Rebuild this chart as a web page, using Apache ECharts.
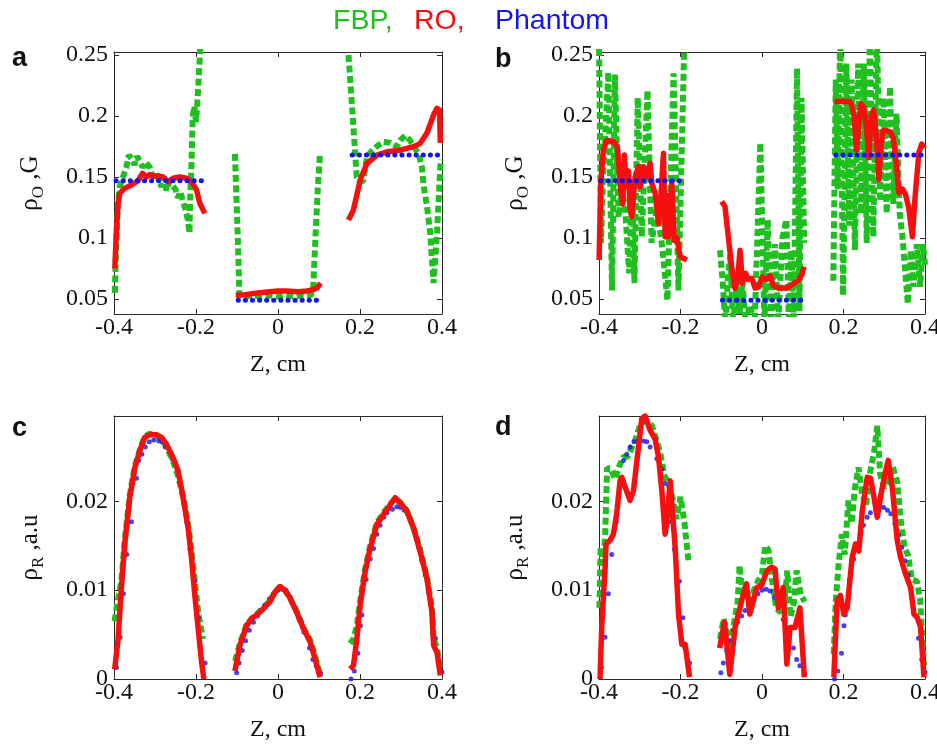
<!DOCTYPE html>
<html><head><meta charset="utf-8">
<script src="https://cdn.jsdelivr.net/npm/echarts@6/dist/echarts.min.js"></script>
<style>html,body{margin:0;padding:0;background:#fff}#chart{width:937px;height:744px}</style>
</head><body><div id="chart"></div>
<script>
// ---------------- data ----------------
const xTicks = [-0.4, -0.2, 0, 0.2, 0.4];
const xTickLabels = ['-0.4', '-0.2', '0', '0.2', '0.4'];
const yTicksAB = [0.05, 0.1, 0.15, 0.2, 0.25];
const yTickLabelsAB = ['0.05', '0.1', '0.15', '0.2', '0.25'];
const yTicksCD = [0, 0.01, 0.02];
const yTickLabelsCD = ['0', '0.01', '0.02'];
const legendNames = ['FBP,', 'RO,', 'Phantom'];
const panelLetters = ['a', 'b', 'c', 'd'];

// panel a : FBP / RO / phantom, three segments each, [Z, value]
const fbpA = [
  [[-0.398,0.055],[-0.394,0.100],[-0.390,0.130],[-0.386,0.142],[-0.378,0.150],[-0.370,0.158],[-0.364,0.168],[-0.357,0.165],[-0.350,0.160],[-0.344,0.167],[-0.337,0.163],[-0.330,0.158],[-0.322,0.162],[-0.313,0.158],[-0.305,0.150],[-0.297,0.153],[-0.290,0.147],[-0.284,0.142],[-0.278,0.150],[-0.272,0.139],[-0.265,0.146],[-0.258,0.143],[-0.250,0.140],[-0.244,0.133],[-0.238,0.138],[-0.232,0.130],[-0.226,0.124],[-0.220,0.115],[-0.216,0.104],[-0.214,0.135],[-0.211,0.160],[-0.208,0.200],[-0.204,0.208],[-0.200,0.195],[-0.196,0.215],[-0.192,0.240],[-0.188,0.265]],
  [[-0.105,0.169],[-0.099,0.110],[-0.094,0.053],[-0.080,0.052],[-0.060,0.053],[-0.040,0.052],[-0.020,0.053],[0.000,0.052],[0.020,0.053],[0.040,0.052],[0.060,0.053],[0.080,0.053],[0.086,0.060],[0.092,0.105],[0.097,0.140],[0.1025,0.169]],
  [[0.172,0.250],[0.184,0.191],[0.192,0.150],[0.200,0.146],[0.208,0.147],[0.217,0.166],[0.225,0.170],[0.241,0.175],[0.257,0.179],[0.274,0.178],[0.290,0.175],[0.298,0.180],[0.310,0.184],[0.322,0.180],[0.331,0.175],[0.343,0.169],[0.351,0.158],[0.355,0.143],[0.363,0.127],[0.371,0.105],[0.3795,0.063],[0.388,0.105],[0.396,0.159],[0.399,0.164]]
];
const roA = [
  [[-0.398,0.075],[-0.394,0.107],[-0.390,0.128],[-0.386,0.1366],[-0.374,0.1407],[-0.3575,0.1434],[-0.3413,0.147],[-0.3306,0.153],[-0.3209,0.150],[-0.3128,0.152],[-0.3047,0.1506],[-0.2925,0.151],[-0.2803,0.150],[-0.268,0.1462],[-0.2558,0.149],[-0.2395,0.150],[-0.2232,0.149],[-0.2109,0.1462],[-0.1987,0.1394],[-0.1906,0.1284],[-0.1784,0.1202]],
  [[-0.103,0.053],[-0.08,0.0535],[-0.05,0.055],[-0.02,0.056],[0.0,0.0565],[0.02,0.0565],[0.05,0.056],[0.07,0.0565],[0.085,0.0575],[0.095,0.059],[0.104,0.063]],
  [[0.1718,0.1148],[0.184,0.123],[0.2004,0.1475],[0.2166,0.161],[0.241,0.168],[0.2655,0.1707],[0.2981,0.172],[0.3306,0.1749],[0.347,0.1776],[0.3633,0.186],[0.3795,0.201],[0.3877,0.2063],[0.394,0.205],[0.3959,0.178]]
];
// phantom (panels a and b): constant segments
const phantomAB = [
  [[-0.395,0.147],[-0.186,0.147]],
  [[-0.097,0.049],[0.104,0.049]],
  [[0.181,0.168],[0.400,0.168]]
];

// panel b
const fbpB = [
  [[-0.3997,0.255],[-0.395,0.096],[-0.390,0.150],[-0.377,0.236],[-0.368,0.057],[-0.361,0.234],[-0.352,0.117],[-0.344,0.140],[-0.336,0.125],[-0.326,0.071],[-0.319,0.147],[-0.313,0.063],[-0.305,0.215],[-0.295,0.101],[-0.281,0.221],[-0.271,0.096],[-0.258,0.125],[-0.245,0.093],[-0.232,0.049],[-0.217,0.235],[-0.205,0.057],[-0.190,0.270],[-0.182,0.270]],
  [[-0.103,0.090],[-0.096,0.062],[-0.090,0.030],[-0.084,0.065],[-0.078,0.086],[-0.071,0.030],[-0.062,0.060],[-0.055,0.038],[-0.048,0.064],[-0.040,0.030],[-0.030,0.045],[-0.018,0.030],[-0.004,0.178],[0.006,0.030],[0.014,0.115],[0.022,0.030],[0.032,0.095],[0.040,0.030],[0.050,0.100],[0.060,0.115],[0.066,0.030],[0.072,0.090],[0.078,0.030],[0.086,0.239],[0.092,0.040],[0.097,0.215],[0.1035,0.096]],
  [[0.175,0.065],[0.181,0.230],[0.186,0.140],[0.192,0.270],[0.199,0.053],[0.207,0.243],[0.214,0.110],[0.220,0.230],[0.228,0.090],[0.236,0.243],[0.243,0.120],[0.250,0.243],[0.257,0.096],[0.265,0.270],[0.273,0.101],[0.282,0.270],[0.290,0.130],[0.298,0.215],[0.306,0.120],[0.314,0.224],[0.322,0.128],[0.330,0.202],[0.338,0.120],[0.345,0.100],[0.352,0.070],[0.358,0.046],[0.365,0.090],[0.372,0.060],[0.380,0.095],[0.388,0.060],[0.395,0.095],[0.400,0.078]]
];
const roB = [
  [[-0.3997,0.082],[-0.3958,0.145],[-0.3893,0.172],[-0.3811,0.180],[-0.3647,0.179],[-0.3549,0.175],[-0.3467,0.139],[-0.3418,0.128],[-0.3377,0.168],[-0.3336,0.142],[-0.3279,0.155],[-0.3238,0.125],[-0.3197,0.1175],[-0.3114,0.150],[-0.3032,0.1585],[-0.2991,0.142],[-0.2909,0.1585],[-0.2827,0.150],[-0.2745,0.1612],[-0.2704,0.145],[-0.2622,0.1366],[-0.254,0.112],[-0.2499,0.124],[-0.2418,0.1694],[-0.2377,0.101],[-0.2336,0.135],[-0.2295,0.1011],[-0.2214,0.145],[-0.2155,0.098],[-0.209,0.100],[-0.2008,0.0847],[-0.1844,0.082]],
  [[-0.0991,0.130],[-0.091,0.126],[-0.0827,0.101],[-0.0745,0.0765],[-0.0663,0.0587],[-0.060,0.065],[-0.054,0.090],[-0.048,0.063],[-0.040,0.071],[-0.034,0.066],[-0.025,0.067],[-0.017,0.059],[-0.008,0.060],[0.000,0.068],[0.010,0.066],[0.020,0.069],[0.028,0.061],[0.040,0.059],[0.060,0.059],[0.075,0.062],[0.088,0.065],[0.098,0.070],[0.103,0.0765]],
  [[0.178,0.212],[0.200,0.212],[0.214,0.212],[0.220,0.209],[0.226,0.200],[0.232,0.172],[0.238,0.195],[0.243,0.210],[0.250,0.207],[0.257,0.188],[0.262,0.166],[0.268,0.200],[0.274,0.205],[0.280,0.185],[0.287,0.148],[0.292,0.175],[0.297,0.188],[0.305,0.188],[0.315,0.187],[0.322,0.182],[0.330,0.160],[0.336,0.137],[0.345,0.140],[0.352,0.136],[0.360,0.125],[0.369,0.101],[0.376,0.135],[0.385,0.170],[0.392,0.177],[0.399,0.174]]
];

// panel c
const fbpC = [
  [[-0.3985,0.0065],[-0.392,0.0085],[-0.382,0.0110],[-0.374,0.0155],[-0.3616,0.0207],[-0.349,0.0240],[-0.337,0.0258],[-0.325,0.0273],[-0.3128,0.0276],[-0.2964,0.0274],[-0.284,0.0270],[-0.272,0.0261],[-0.2558,0.0245],[-0.2436,0.0228],[-0.2314,0.0205],[-0.2192,0.0175],[-0.2109,0.0145],[-0.2028,0.0110],[-0.1947,0.0075],[-0.188,0.0058],[-0.183,0.0045]],
  [[-0.1045,0.0020],[-0.093,0.0040],[-0.0765,0.0061],[-0.0643,0.0068],[-0.052,0.0073],[-0.0359,0.0080],[-0.0195,0.0088],[-0.0073,0.0098],[0.0049,0.0104],[0.0171,0.0100],[0.0293,0.0091],[0.0457,0.0076],[0.0618,0.0058],[0.0782,0.0044],[0.0904,0.0026],[0.1026,0.0005]],
  [[0.1759,0.0040],[0.184,0.0045],[0.1923,0.0060],[0.2004,0.0088],[0.2126,0.0124],[0.2248,0.0150],[0.2412,0.0176],[0.2573,0.0187],[0.2737,0.0197],[0.2859,0.0203],[0.2981,0.0199],[0.3145,0.0189],[0.3306,0.0170],[0.347,0.0145],[0.3633,0.0115],[0.3756,0.0080],[0.3795,0.0045],[0.3878,0.0035],[0.3959,0.0008]]
];
const roC = [
  [[-0.3983,0.0011],[-0.390,0.0045],[-0.382,0.0102],[-0.374,0.0151],[-0.3616,0.0204],[-0.349,0.0238],[-0.337,0.0257],[-0.325,0.0272],[-0.3128,0.0275],[-0.2964,0.0275],[-0.284,0.0272],[-0.272,0.0264],[-0.2558,0.0249],[-0.2436,0.0234],[-0.2314,0.0204],[-0.2192,0.0170],[-0.2109,0.0136],[-0.2028,0.0094],[-0.1947,0.0057],[-0.1864,0.0019],[-0.1808,0.0]],
  [[-0.1051,0.0009],[-0.0929,0.0038],[-0.0765,0.0060],[-0.0643,0.0068],[-0.052,0.0072],[-0.0359,0.0079],[-0.0195,0.0087],[-0.0073,0.0098],[0.0049,0.0104],[0.0171,0.0100],[0.0293,0.0091],[0.0457,0.0075],[0.0618,0.0057],[0.0782,0.0042],[0.0904,0.0023],[0.1026,0.0002]],
  [[0.1759,0.0011],[0.184,0.0015],[0.1923,0.0045],[0.2004,0.0083],[0.2126,0.0121],[0.2248,0.0147],[0.2412,0.0174],[0.2573,0.0185],[0.2737,0.0196],[0.2859,0.0204],[0.2981,0.0198],[0.3145,0.0189],[0.3306,0.0170],[0.347,0.0143],[0.3633,0.0113],[0.3756,0.0075],[0.3795,0.0038],[0.3878,0.0030],[0.3959,0.0004]]
];
// phantom (panels c and d): sampled dots
const phantomCD = [
  [[-0.394,0.0013],[-0.3852,0.0047],[-0.377,0.0096],[-0.3688,0.0140],[-0.3575,0.0177],[-0.3453,0.0226],[-0.340,0.0246],[-0.3319,0.0253],[-0.3238,0.0261],[-0.3139,0.0267],[-0.3031,0.0269],[-0.2908,0.0268],[-0.2827,0.0267],[-0.2746,0.0261],[-0.2581,0.0248],[-0.2458,0.0236],[-0.2376,0.0220],[-0.2294,0.0199],[-0.2230,0.0177],[-0.2150,0.0146],[-0.2028,0.0110],[-0.1943,0.0069],[-0.1900,0.0036],[-0.1778,0.0018]],
  [[-0.101,0.0007],[-0.095,0.0018],[-0.087,0.0032],[-0.079,0.0043],[-0.070,0.0055],[-0.060,0.0064],[-0.050,0.0071],[-0.042,0.0077],[-0.032,0.0083],[-0.021,0.0090],[-0.010,0.0096],[0.000,0.0100],[0.010,0.0101],[0.020,0.0099],[0.030,0.0092],[0.041,0.0081],[0.052,0.0067],[0.063,0.0053],[0.077,0.0035],[0.085,0.0022],[0.093,0.0015],[0.104,0.0006]],
  [[0.178,0.0000],[0.186,0.0009],[0.195,0.0029],[0.201,0.0060],[0.2045,0.0072],[0.215,0.0112],[0.225,0.0135],[0.233,0.0147],[0.241,0.0163],[0.249,0.0173],[0.258,0.0182],[0.266,0.0187],[0.279,0.0191],[0.290,0.0194],[0.299,0.0193],[0.308,0.0190],[0.316,0.0186],[0.326,0.0175],[0.335,0.0162],[0.343,0.0148],[0.351,0.0133],[0.359,0.0117],[0.367,0.0098],[0.376,0.0072],[0.384,0.0046],[0.392,0.0022],[0.400,0.0008]]
];

// panel d
const fbpD = [
  [[-0.399,0.0080],[-0.396,0.0148],[-0.390,0.0130],[-0.385,0.0160],[-0.380,0.0238],[-0.370,0.0235],[-0.360,0.0225],[-0.350,0.0240],[-0.340,0.0250],[-0.330,0.0250],[-0.320,0.0260],[-0.310,0.0270],[-0.300,0.0285],[-0.290,0.0290],[-0.280,0.0290],[-0.270,0.0285],[-0.260,0.0270],[-0.250,0.0255],[-0.240,0.0230],[-0.230,0.0220],[-0.220,0.0205],[-0.210,0.0180],[-0.200,0.0205],[-0.190,0.0175],[-0.180,0.0130]],
  [[-0.103,0.0045],[-0.094,0.0068],[-0.085,0.0050],[-0.078,0.0035],[-0.070,0.0060],[-0.060,0.0085],[-0.055,0.0128],[-0.048,0.0095],[-0.040,0.0105],[-0.030,0.0080],[-0.020,0.0100],[-0.010,0.0110],[0.000,0.0118],[0.008,0.0150],[0.016,0.0145],[0.025,0.0110],[0.035,0.0080],[0.045,0.0075],[0.055,0.0085],[0.062,0.0122],[0.070,0.0070],[0.078,0.0085],[0.085,0.0122],[0.095,0.0095],[0.105,0.0087]],
  [[0.176,0.0028],[0.181,0.0088],[0.188,0.0129],[0.196,0.0163],[0.203,0.0140],[0.212,0.0201],[0.220,0.0175],[0.228,0.0215],[0.237,0.0238],[0.245,0.0210],[0.255,0.0195],[0.265,0.0232],[0.275,0.0255],[0.283,0.0285],[0.290,0.0230],[0.300,0.0215],[0.310,0.0225],[0.320,0.0240],[0.332,0.0222],[0.340,0.0180],[0.350,0.0148],[0.358,0.0140],[0.368,0.0112],[0.380,0.0110],[0.388,0.0090],[0.393,0.0050],[0.398,0.0015]]
];
const roD = [
  [[-0.3975,0.0],[-0.3934,0.0058],[-0.385,0.0126],[-0.3828,0.0152],[-0.373,0.0156],[-0.3646,0.0163],[-0.3565,0.0186],[-0.3484,0.0223],[-0.344,0.0227],[-0.336,0.0216],[-0.3238,0.0201],[-0.3154,0.0212],[-0.3031,0.0261],[-0.295,0.0293],[-0.2869,0.0296],[-0.2746,0.0280],[-0.2623,0.0270],[-0.254,0.0250],[-0.2458,0.0212],[-0.2377,0.0163],[-0.2336,0.0176],[-0.2254,0.0223],[-0.2131,0.0148],[-0.2048,0.0073],[-0.1967,0.0039],[-0.1886,0.0039],[-0.1778,0.0002]],
  [[-0.104,0.0035],[-0.092,0.0064],[-0.079,0.0005],[-0.066,0.0058],[-0.058,0.0073],[-0.046,0.0095],[-0.038,0.0107],[-0.030,0.0073],[-0.021,0.0088],[-0.013,0.0103],[-0.001,0.0105],[0.012,0.0122],[0.024,0.0126],[0.032,0.0124],[0.040,0.0080],[0.052,0.0103],[0.061,0.0017],[0.069,0.0058],[0.081,0.0058],[0.093,0.0080],[0.104,0.0002]],
  [[0.1763,0.0002],[0.1844,0.0088],[0.1925,0.0094],[0.2008,0.0073],[0.209,0.0080],[0.2213,0.0137],[0.2294,0.0152],[0.2377,0.0144],[0.2459,0.0189],[0.2582,0.0227],[0.2664,0.0226],[0.2746,0.0205],[0.2828,0.0182],[0.2909,0.0205],[0.3032,0.0234],[0.3098,0.0246],[0.3196,0.0216],[0.3319,0.0156],[0.340,0.0137],[0.3523,0.0118],[0.3646,0.0103],[0.3729,0.0073],[0.3811,0.0069],[0.3892,0.0058],[0.3975,0.0002]]
];

// ---------------- styling / layout ----------------
const GREEN = '#1ebf1e', RED = '#f50f0f', BLUE = '#1414f0';
const SERIF = 'Liberation Serif';
const grids = [
  {left: 114, top: 52, width: 328, height: 262},
  {left: 599, top: 52, width: 326, height: 262},
  {left: 114, top: 416, width: 328, height: 263},
  {left: 599, top: 416, width: 326, height: 263}
];
const yRanges = [[0.0377, 0.2525], [0.0377, 0.2525], [0, 0.0296], [0, 0.0296]];
const yTickSets = [yTicksAB, yTicksAB, yTicksCD, yTicksCD];
const yLabelSets = [yTickLabelsAB, yTickLabelsAB, yTickLabelsCD, yTickLabelsCD];
const yNames = ['{r|ρ}{s|O}{r| ,G}', '{r|ρ}{s|O}{r| ,G}', '{r|ρ}{s|R}{r| ,a.u}', '{r|ρ}{s|R}{r| ,a.u}'];

function fmt(ticks, labels) {
  return function (v) {
    for (let i = 0; i < ticks.length; i++) if (Math.abs(ticks[i] - v) < 1e-9) return labels[i];
    return '';
  };
}
const axisCol = '#2a2a2a';
const xAxes = [], yAxes = [];
grids.forEach((g, i) => {
  xAxes.push({
    gridIndex: i, type: 'value', min: -0.4, max: 0.4, position: 'bottom',
    axisLine: {show: true, onZero: false, lineStyle: {color: axisCol, width: 1}},
    axisTick: {show: true, inside: true, length: 5, customValues: xTicks, lineStyle: {color: axisCol}},
    axisLabel: {customValues: xTicks, formatter: fmt(xTicks, xTickLabels), fontFamily: SERIF, fontSize: 24, color: '#111', margin: 2, showMinLabel: true, showMaxLabel: true},
    splitLine: {show: false},
    name: 'Z, cm', nameLocation: 'middle', nameGap: 39,
    nameTextStyle: {fontFamily: SERIF, fontSize: 24, color: '#111'}
  });
  yAxes.push({
    gridIndex: i, type: 'value', min: yRanges[i][0], max: yRanges[i][1], position: 'left',
    axisLine: {show: true, onZero: false, lineStyle: {color: axisCol, width: 1}},
    axisTick: {show: true, inside: true, length: 5, customValues: yTickSets[i], lineStyle: {color: axisCol}},
    axisLabel: {customValues: yTickSets[i], formatter: fmt(yTickSets[i], yLabelSets[i]), fontFamily: SERIF, fontSize: 24, color: '#111', margin: 6, showMinLabel: true, showMaxLabel: true},
    splitLine: {show: false},
    name: yNames[i], nameLocation: 'middle', nameRotate: 90, nameGap: 67,
    nameTextStyle: {fontFamily: SERIF, fontSize: 25, color: '#111',
      rich: {r: {fontFamily: SERIF, fontSize: 25, color: '#111', lineHeight: 34},
             s: {fontFamily: SERIF, fontSize: 17, color: '#111', lineHeight: 16, verticalAlign: 'bottom'}}}
  });
});
// mirror axes (top / right) for box ticks
grids.forEach((g, i) => {
  xAxes.push({
    gridIndex: i, type: 'value', min: -0.4, max: 0.4, position: 'top',
    axisLine: {show: true, onZero: false, lineStyle: {color: axisCol, width: 1}},
    axisTick: {show: true, inside: true, length: 5, customValues: xTicks, lineStyle: {color: axisCol}},
    axisLabel: {show: false}, splitLine: {show: false}
  });
  yAxes.push({
    gridIndex: i, type: 'value', min: yRanges[i][0], max: yRanges[i][1], position: 'right',
    axisLine: {show: true, onZero: false, lineStyle: {color: axisCol, width: 1}},
    axisTick: {show: true, inside: true, length: 5, customValues: yTickSets[i], lineStyle: {color: axisCol}},
    axisLabel: {show: false}, splitLine: {show: false}
  });
});

const series = [];
function addLines(segs, gi, lineStyle, z) {
  segs.forEach(seg => series.push({
    type: 'line', xAxisIndex: gi, yAxisIndex: gi, data: seg, symbol: 'none',
    showSymbol: false, clip: true, z: z, silent: true, lineStyle: lineStyle
  }));
}
function addDots(segs, gi, z) {
  segs.forEach(seg => series.push({
    type: 'scatter', xAxisIndex: gi, yAxisIndex: gi, data: seg, symbol: 'circle',
    symbolSize: 5, z: z, silent: true, clip: true, itemStyle: {color: BLUE}
  }));
}
const fbpStyle = {color: GREEN, width: 6, type: [7, 3.5], cap: 'butt', join: 'bevel'};
const roStyle = {color: RED, width: 5.5, cap: 'butt', join: 'round'};
const phStyle = {color: BLUE, width: 5, type: [0.1, 7], cap: 'round'};

addLines(fbpA, 0, fbpStyle, 2); addLines(roA, 0, roStyle, 3); addLines(phantomAB, 0, phStyle, 4);
addLines(fbpB, 1, fbpStyle, 2); addLines(roB, 1, roStyle, 3); addLines(phantomAB, 1, phStyle, 4);
addLines(fbpC, 2, fbpStyle, 2); addDots(phantomCD, 2, 3); addLines(roC, 2, roStyle, 4);
addLines(fbpD, 3, fbpStyle, 2); addDots(phantomCD, 3, 3); addLines(roD, 3, roStyle, 4);

const legendX = [333, 414, 495];
const legendCol = [GREEN, RED, BLUE];
const letterPos = [[12, 45], [495, 46], [12, 415], [495, 414]];
const graphic = [];
legendNames.forEach((t, i) => graphic.push({
  type: 'text', x: legendX[i], y: 7,
  style: {text: t, fill: legendCol[i], font: '28.5px "Liberation Sans", Arial, sans-serif', textVerticalAlign: 'top'}
}));
panelLetters.forEach((t, i) => graphic.push({
  type: 'text', x: letterPos[i][0], y: letterPos[i][1],
  style: {text: t, fill: '#111', font: 'bold 27px "Liberation Sans", Arial, sans-serif', textVerticalAlign: 'top'}
}));

const chart = echarts.init(document.getElementById('chart'), null, {renderer: 'canvas'});
chart.setOption({
  animation: false,
  backgroundColor: '#fff',
  grid: grids.map(g => Object.assign({containLabel: false, outerBoundsMode: 'none', show: false}, g)),
  xAxis: xAxes,
  yAxis: yAxes,
  series: series,
  graphic: graphic
});
</script></body></html>
